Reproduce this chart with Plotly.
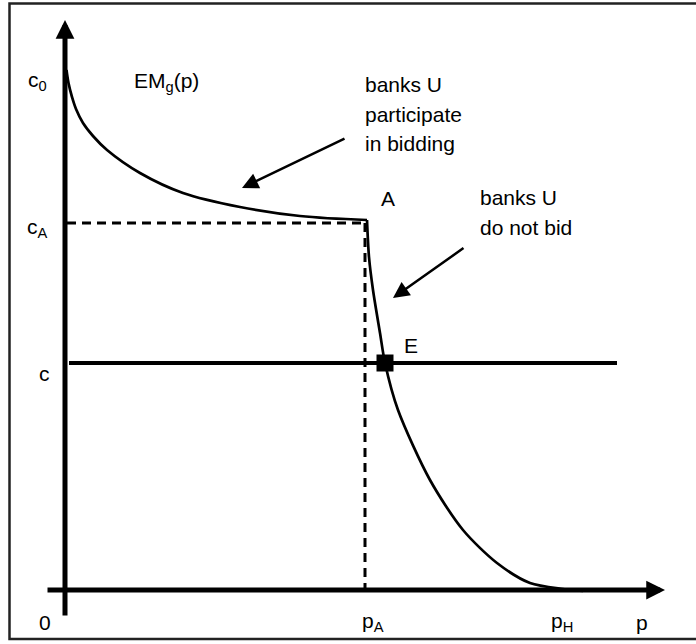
import plotly.graph_objects as go

# ---- data (economic-diagram units) ----
p_upper = [0.015, 0.035, 0.07, 0.11, 0.18, 0.28, 0.42, 0.75, 1.18, 1.75, 2.35, 3.02]
c_upper = [5.20, 5.07, 4.93, 4.81, 4.67, 4.54, 4.40, 4.17, 3.97, 3.83, 3.74, 3.70]
p_lower = [3.02, 3.04, 3.08, 3.15, 3.20, 3.33, 3.65, 3.98, 4.32, 4.65, 4.98, 5.18]
c_lower = [3.70, 3.33, 3.00, 2.57, 2.27, 1.80, 1.10, 0.60, 0.27, 0.07, 0.01, -0.01]

p_A = 3.00
c_A = 3.67
c_level = 2.27
c_line_span = [0.04, 5.52]
E_point = (3.20, 2.27)

y_tick_vals = [5.09, 3.62, 2.17]
y_tick_text = ["c<sub>0</sub>", "c<sub>A</sub>", "c"]
x_tick_vals = [-0.20, 3.08, 4.97, 5.77]
x_tick_text = ["0", "p<sub>A</sub>", "p<sub>H</sub>", "p"]

FONT = "Liberation Sans, Arial, sans-serif"
FS = 21

fig = go.Figure()

# curve EMg(p)
fig.add_trace(go.Scatter(x=p_upper, y=c_upper, mode="lines",
                         line=dict(color="black", width=2.7, shape="spline", smoothing=1.0),
                         hoverinfo="skip"))
fig.add_trace(go.Scatter(x=p_lower, y=c_lower, mode="lines",
                         line=dict(color="black", width=2.7, shape="spline", smoothing=0.8),
                         hoverinfo="skip"))

# dashed guides at A
fig.add_trace(go.Scatter(x=[0.02, p_A], y=[c_A, c_A], mode="lines",
                         line=dict(color="black", width=3, dash="9px,6px"), hoverinfo="skip"))
fig.add_trace(go.Scatter(x=[p_A, p_A], y=[c_A, 0], mode="lines",
                         line=dict(color="black", width=3, dash="9px,6px"), hoverinfo="skip"))

# horizontal c line
fig.add_trace(go.Scatter(x=c_line_span, y=[c_level, c_level], mode="lines",
                         line=dict(color="black", width=4), hoverinfo="skip"))

# equilibrium E
fig.add_trace(go.Scatter(x=[E_point[0]], y=[E_point[1]], mode="markers",
                         marker=dict(symbol="square", size=17, color="black"),
                         hoverinfo="skip"))

ann = []
# axes with arrows
ann.append(dict(x=6.00, y=0, ax=-0.19, ay=0, xref="x", yref="y", axref="x", ayref="y",
                showarrow=True, arrowhead=2, arrowsize=0.75, arrowwidth=5,
                arrowcolor="black", text=""))
ann.append(dict(x=0, y=5.70, ax=0, ay=-0.27, xref="x", yref="y", axref="x", ayref="y",
                showarrow=True, arrowhead=2, arrowsize=0.75, arrowwidth=5,
                arrowcolor="black", text=""))
# pointer arrows
ann.append(dict(x=1.77, y=4.02, ax=2.81, ay=4.52, xref="x", yref="y", axref="x", ayref="y",
                showarrow=True, arrowhead=2, arrowsize=1.3, arrowwidth=2.5,
                arrowcolor="black", text=""))
ann.append(dict(x=3.28, y=2.92, ax=4.00, ay=3.43, xref="x", yref="y", axref="x", ayref="y",
                showarrow=True, arrowhead=2, arrowsize=1.3, arrowwidth=2.5,
                arrowcolor="black", text=""))

def label(x, y, t, xanchor="center"):
    ann.append(dict(x=x, y=y, xref="x", yref="y", text=t, showarrow=False,
                    xanchor=xanchor, yanchor="middle",
                    font=dict(family=FONT, size=FS, color="black")))

for v, t in zip(y_tick_vals, y_tick_text):
    label(-0.28 if t != "c" else -0.21, v, t)
for v, t in zip(x_tick_vals, x_tick_text):
    label(v, -0.32, t)

label(0.67, 5.08, "EM<sub>g</sub>(p)", "left")
label(2.98, 5.06, "banks U", "left")
label(2.98, 4.76, "participate", "left")
label(2.98, 4.47, "in bidding", "left")
label(3.23, 3.92, "A")
label(4.13, 3.93, "banks U", "left")
label(4.13, 3.63, "do not bid", "left")
label(3.46, 2.45, "E")

fig.update_layout(
    width=696, height=644,
    margin=dict(l=0, r=0, t=0, b=0),
    paper_bgcolor="white", plot_bgcolor="white",
    showlegend=False,
    xaxis=dict(range=[-0.65, 6.31], visible=False, fixedrange=True),
    yaxis=dict(range=[-0.54, 5.90], visible=False, fixedrange=True),
    annotations=ann,
    shapes=[dict(type="rect", xref="paper", yref="paper",
                 x0=9.5 / 696, x1=1.02, y0=1 - 639 / 644, y1=1 - 3.5 / 644,
                 line=dict(color="#222", width=2.5))],
)

fig.write_html("out.html", config={"displayModeBar": False, "staticPlot": True},
               post_script="document.body.style.margin='0';document.body.style.overflow='hidden';")
